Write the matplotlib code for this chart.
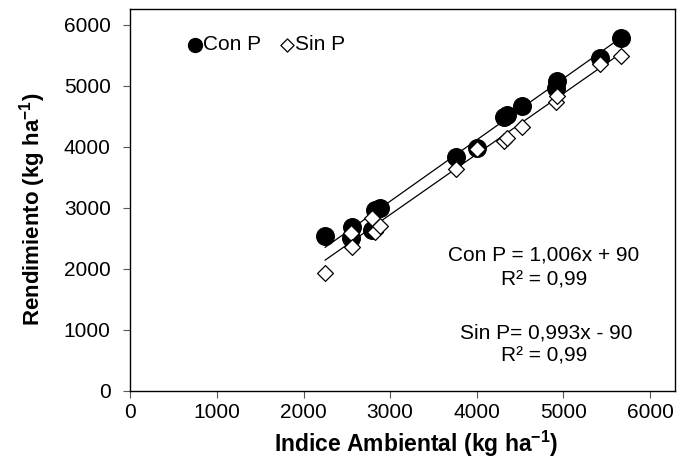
import matplotlib
matplotlib.use("Agg")
import numpy as np
import matplotlib.pyplot as plt

plt.rcParams['font.family'] = ['Liberation Sans', 'DejaVu Sans']
plt.rcParams['mathtext.fontset'] = 'custom'
plt.rcParams['mathtext.rm'] = 'Liberation Sans'
plt.rcParams['mathtext.bf'] = 'Liberation Sans:bold'

# --------- Data ---------
indice = [2250, 2545, 2560, 2790, 2830, 2880, 3755, 4000, 4310, 4350, 4525, 4915, 4925, 5425, 5660]
con_p = [2540, 2500, 2690, 2640, 2960, 2990, 3840, 3980, 4490, 4520, 4670, 4960, 5070, 5460, 5780]
sin_p = [1940, 2580, 2360, 2830, 2610, 2700, 3640, 3970, 4090, 4150, 4330, 4730, 4840, 5360, 5490]

con_slope, con_int = 1.006, 90
sin_slope, sin_int = 0.993, -90

ticks = [0, 1000, 2000, 3000, 4000, 5000, 6000]

# --------- Figure ---------
fig = plt.figure(figsize=(6.78, 4.66), dpi=100)
ax = fig.add_axes([0.192, 0.161, 0.804, 0.82])

xl = np.array([min(indice), max(indice)])
ax.plot(xl, con_slope * xl + con_int, color='black', lw=0.9, zorder=1)
ax.plot(xl, sin_slope * xl + sin_int, color='black', lw=0.9, zorder=1)

ax.scatter(indice, con_p, s=160, marker='o', color='black', zorder=2)
ax.scatter(indice, sin_p, s=65, marker='D', facecolor='white', edgecolor='black',
           linewidths=0.9, zorder=3)

# legend drawn by hand, like Excel's
ax.scatter([750], [5670], s=100, marker='o', color='black')
ax.text(840, 5670, 'Con P', fontsize=15, va='center', ha='left')
ax.scatter([1810], [5670], s=45, marker='D', facecolor='white', edgecolor='black', linewidths=0.9)
ax.text(1900, 5670, 'Sin P', fontsize=15, va='center', ha='left')

# regression equations
ax.text(4775, 2220, 'Con P = 1,006x + 90', fontsize=15, ha='center', va='center')
ax.text(4775, 1810, 'R² = 0,99', fontsize=15, ha='center', va='center')
ax.text(4800, 955, 'Sin P= 0,993x - 90', fontsize=15, ha='center', va='center')
ax.text(4775, 580, 'R² = 0,99', fontsize=15, ha='center', va='center')

ax.set_xlim(0, 6290)
ax.set_ylim(0, 6260)
ax.set_xticks(ticks)
ax.set_yticks(ticks)
ax.tick_params(direction='out', length=5, width=0.8, labelsize=15, color='#555555')
ax.tick_params(axis='y', pad=9)
for sp in ax.spines.values():
    sp.set_linewidth(1.0)

ax.set_xlabel(r'Indice Ambiental (kg ha$^{\mathbf{-1}}$)', fontsize=16.5, fontweight='bold')
ax.set_ylabel(r'Rendimiento (kg ha$^{\mathbf{-1}}$)', fontsize=16, fontweight='bold')
ax.xaxis.set_label_coords(0.525, -0.1)
ax.yaxis.set_label_coords(-0.15, 0.474)

plt.savefig('out.png', dpi=100)
